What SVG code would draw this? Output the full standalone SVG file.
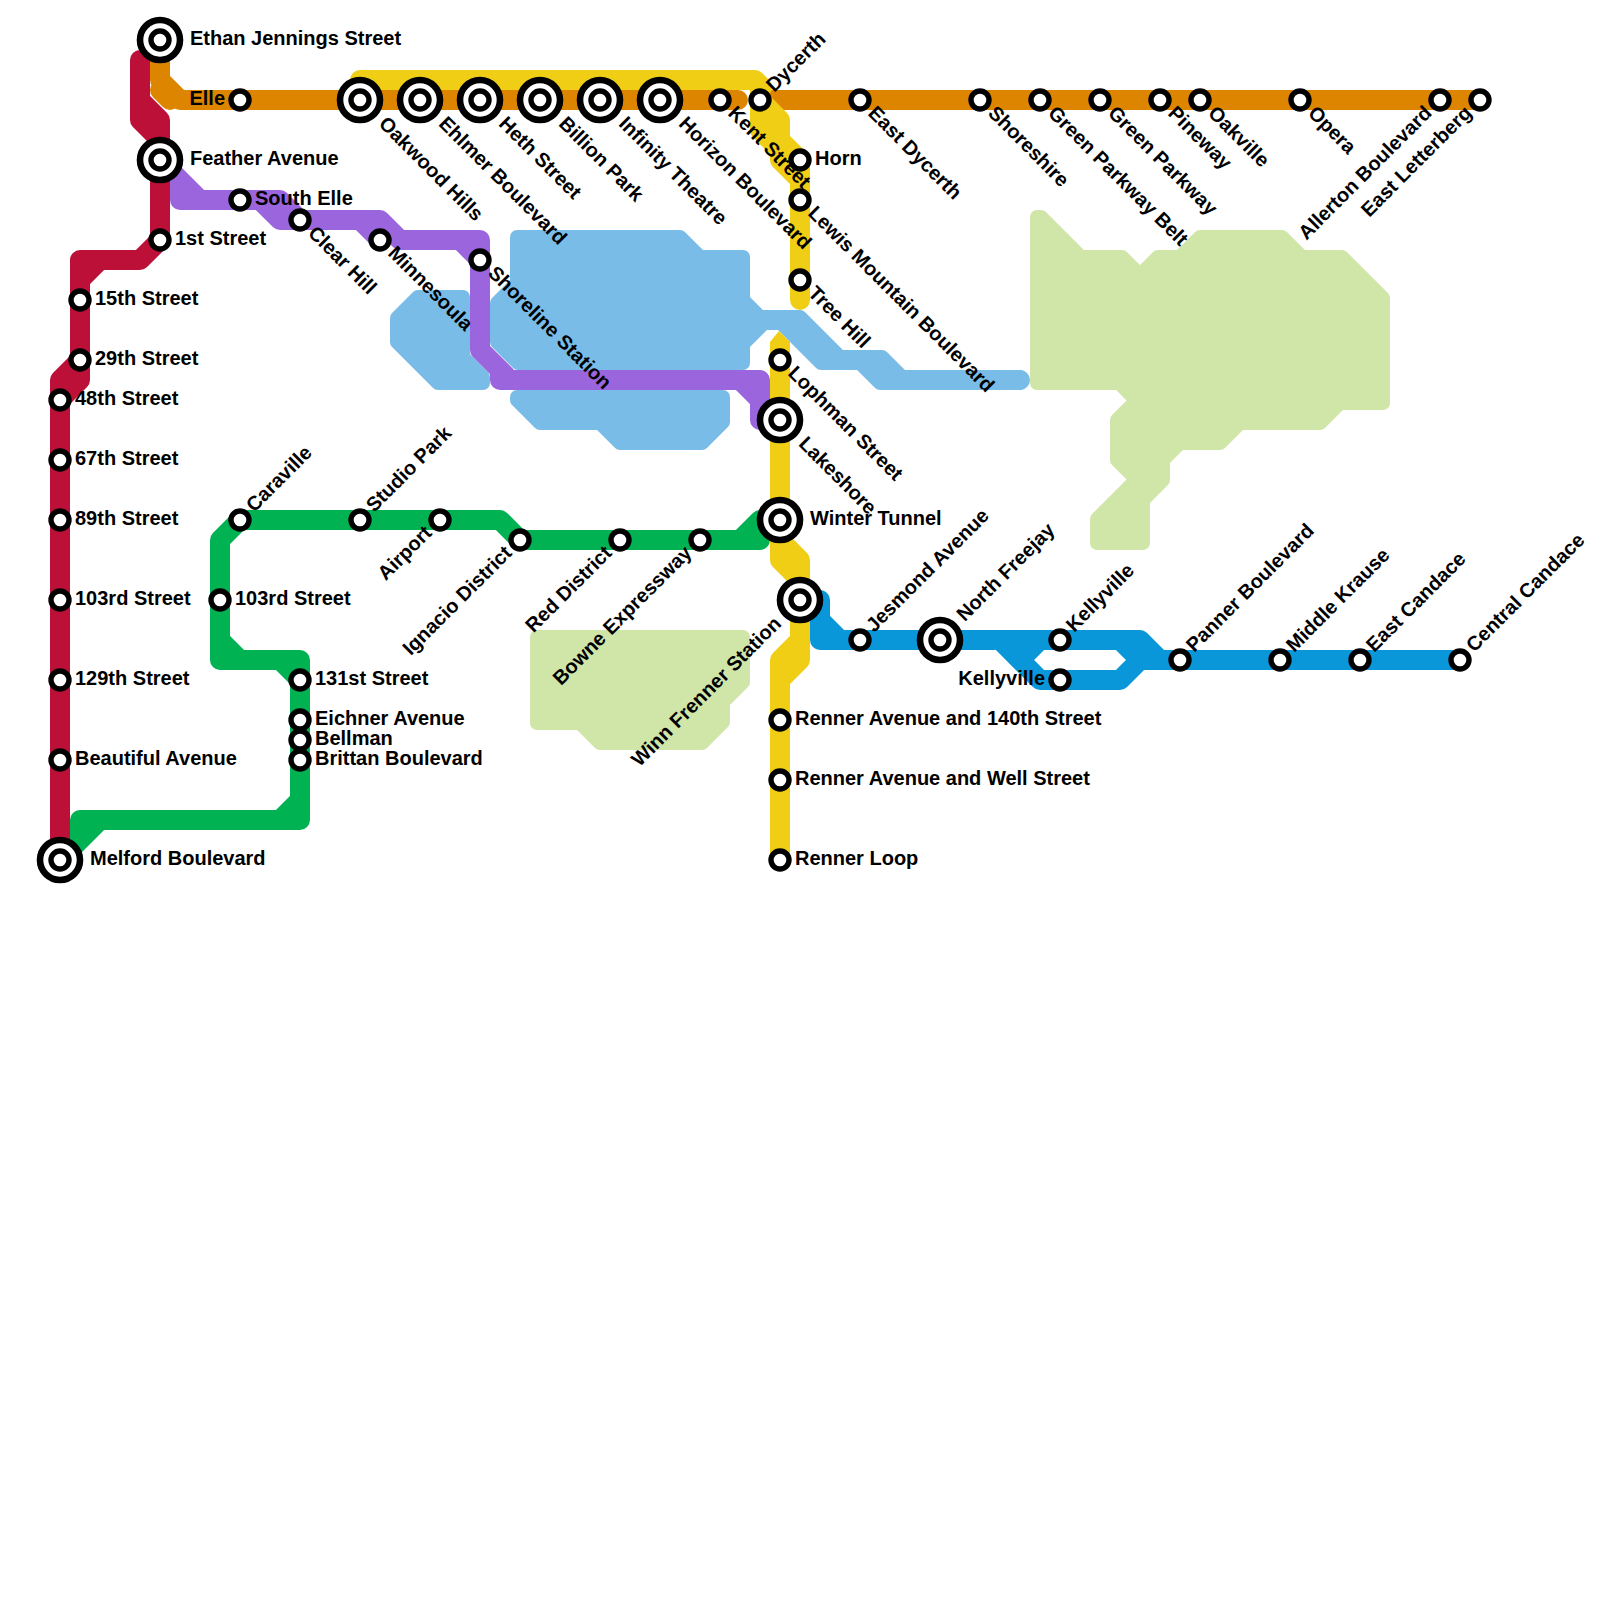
<svg xmlns="http://www.w3.org/2000/svg" width="1600" height="1600" viewBox="0 0 1600 1600">
<style>
.park{stroke-width:14;stroke-linejoin:round}
.pb{fill:#79bce8;stroke:#79bce8}
.pg{fill:#d0e5a8;stroke:#d0e5a8}
.l{fill:none;stroke-width:20;stroke-linejoin:round;stroke-linecap:round}
.s{fill:#fff;stroke:#000;stroke-width:5.4}
.i{fill:#fff;stroke:#000;stroke-width:6.6}
text{font-family:"Liberation Sans",Arial,sans-serif;font-weight:bold;font-size:20px;fill:#000}
.e{text-anchor:end}
</style>
<rect width="1600" height="1600" fill="#fff"/>
<g id="parks">
<polygon class="park pb" points="397,318 418,297 463,297 463,357 483,377 483,383 438,383 397,342"/>
<polygon class="park pb" points="517,237 680,237 700,257 743,257 743,300 760,317 800,317 840,357 882,357 902,377 1020,377 1020,383 880,383 860,363 821,363 781,323 764,323 743,344 743,363 518,363 497,342 497,303 517,283"/>
<path d="M1000,380H1020" fill="none" stroke="#79bce8" stroke-width="20" stroke-linecap="round"/>
<polygon class="park pb" points="517,397 723,397 723,422 702,443 620,443 600,423 540,423 517,400"/>
<polygon class="park pg" points="537,637 743,637 743,682 723,702 723,722 702,743 600,743 580,723 537,723"/>
<polygon class="park pg" points="1037,217 1041,217 1081,257 1122,257 1140,275 1158,257 1180,257 1200,237 1282,237 1302,257 1342,257 1383,298 1383,403 1340,403 1320,423 1240,423 1220,443 1180,443 1163,460 1163,480 1143,500 1143,543 1097,543 1097,519 1136.5,479.5 1117,460 1117,420 1136.5,400.5 1119,383 1037,383"/>
</g>
<g id="connectors">
<path id="line-green" class="l" stroke="#00b251" d="M240,520 H500 L520,540 H760 V520 M740,540 L760,520 M240,520 L220,540 V660 H300 V820 H80 V840 M220,640 L240,660 M280,660 L300,680 M300,800 L280,820 M100,820 L60,860"/>
<path id="line-purple" class="l" stroke="#9b65de" d="M160,160 L200,200 H280 L300,220 H380 L400,240 H480 V350 L510,380 M180,180 V200 H260 L280,220 H360 L380,240 M460,240 L480,260 M500,370 V380 H760 V420 M740,380 L760,400"/>
<path id="line-teal" class="l" stroke="#0a97d9" d="M820,600 V640 H1140 L1160,660 H1460 M820,620 L840,640 M1000,640 L1040,680 H1120 L1140,660 H1160 M1040,640 L1020,660 M1120,640 L1140,660"/>
<path id="line-red" class="l" stroke="#bd1038" d="M160,240 V120 L140,100 V60 M160,140 L140,120 V100 M160,240 L140,260 H80 V380 L60,400 V860 M100,260 L80,280 M60,380 L80,360 M60,380 V400"/>
<path id="line-orange-east" class="l" stroke="#de8500" d="M770,100 H1480"/>
<path id="line-yellow" class="l" stroke="#f0ce15" d="M360,80 H755 L762,87 M760,90 V130 L780,150 V160 L800,180 V300 M760,100 L780,120 V140 L800,160 V180 M780,360 V560 L800,580 M780,540 L800,560 V660 L780,680 V860 M800,640 L780,660 V680"/>
<polygon id="line-yellow-tip" points="770,342 779,331 790,342 790,365 770,365" fill="#f0ce15"/>
<path id="line-orange-west" class="l" stroke="#de8500" d="M160,40 V80 L180,100 H738 M160,90 L170,100"/>
</g>
<g id="nodes">
<g id="ethan-jennings-street"><circle class="i" cx="160" cy="40" r="20"/><circle class="s" cx="160" cy="40" r="9"/><text x="190" y="45">Ethan Jennings Street</text></g>
<g id="elle"><circle class="s" cx="240" cy="100" r="9"/><text class="e" x="225" y="105">Elle</text></g>
<g id="oakwood-hills"><circle class="i" cx="360" cy="100" r="20"/><circle class="s" cx="360" cy="100" r="9"/><text transform="translate(360,100) rotate(45)" x="30" y="5">Oakwood Hills</text></g>
<g id="ehlmer-boulevard"><circle class="i" cx="420" cy="100" r="20"/><circle class="s" cx="420" cy="100" r="9"/><text transform="translate(420,100) rotate(45)" x="30" y="5">Ehlmer Boulevard</text></g>
<g id="heth-street"><circle class="i" cx="480" cy="100" r="20"/><circle class="s" cx="480" cy="100" r="9"/><text transform="translate(480,100) rotate(45)" x="30" y="5">Heth Street</text></g>
<g id="billion-park"><circle class="i" cx="540" cy="100" r="20"/><circle class="s" cx="540" cy="100" r="9"/><text transform="translate(540,100) rotate(45)" x="30" y="5">Billion Park</text></g>
<g id="infinity-theatre"><circle class="i" cx="600" cy="100" r="20"/><circle class="s" cx="600" cy="100" r="9"/><text transform="translate(600,100) rotate(45)" x="30" y="5">Infinity Theatre</text></g>
<g id="horizon-boulevard"><circle class="i" cx="660" cy="100" r="20"/><circle class="s" cx="660" cy="100" r="9"/><text transform="translate(660,100) rotate(45)" x="30" y="5">Horizon Boulevard</text></g>
<g id="kent-street"><circle class="s" cx="720" cy="100" r="9"/><text transform="translate(720,100) rotate(45)" x="15" y="5">Kent Street</text></g>
<g id="dycerth"><circle class="s" cx="760" cy="100" r="9"/><text transform="translate(760,100) rotate(-45)" x="15" y="5">Dycerth</text></g>
<g id="east-dycerth"><circle class="s" cx="860" cy="100" r="9"/><text transform="translate(860,100) rotate(45)" x="15" y="5">East Dycerth</text></g>
<g id="shoreshire"><circle class="s" cx="980" cy="100" r="9"/><text transform="translate(980,100) rotate(45)" x="15" y="5">Shoreshire</text></g>
<g id="green-parkway-belt"><circle class="s" cx="1040" cy="100" r="9"/><text transform="translate(1040,100) rotate(45)" x="15" y="5">Green Parkway Belt</text></g>
<g id="green-parkway"><circle class="s" cx="1100" cy="100" r="9"/><text transform="translate(1100,100) rotate(45)" x="15" y="5">Green Parkway</text></g>
<g id="pineway"><circle class="s" cx="1160" cy="100" r="9"/><text transform="translate(1160,100) rotate(45)" x="15" y="5">Pineway</text></g>
<g id="oakville"><circle class="s" cx="1200" cy="100" r="9"/><text transform="translate(1200,100) rotate(45)" x="15" y="5">Oakville</text></g>
<g id="opera"><circle class="s" cx="1300" cy="100" r="9"/><text transform="translate(1300,100) rotate(45)" x="15" y="5">Opera</text></g>
<g id="allerton-boulevard"><circle class="s" cx="1440" cy="100" r="9"/><text class="e" transform="translate(1440,100) rotate(-45)" x="-15" y="5">Allerton Boulevard</text></g>
<g id="east-letterberg"><circle class="s" cx="1480" cy="100" r="9"/><text class="e" transform="translate(1480,100) rotate(-45)" x="-15" y="5">East Letterberg</text></g>
<g id="feather-avenue"><circle class="i" cx="160" cy="160" r="20"/><circle class="s" cx="160" cy="160" r="9"/><text x="190" y="165">Feather Avenue</text></g>
<g id="south-elle"><circle class="s" cx="240" cy="200" r="9"/><text x="255" y="205">South Elle</text></g>
<g id="clear-hill"><circle class="s" cx="300" cy="220" r="9"/><text transform="translate(300,220) rotate(45)" x="15" y="5">Clear Hill</text></g>
<g id="minnesoula"><circle class="s" cx="380" cy="240" r="9"/><text transform="translate(380,240) rotate(45)" x="15" y="5">Minnesoula</text></g>
<g id="shoreline-station"><circle class="s" cx="480" cy="260" r="9"/><text transform="translate(480,260) rotate(45)" x="15" y="5">Shoreline Station</text></g>
<g id="first-street"><circle class="s" cx="160" cy="240" r="9"/><text x="175" y="245">1st Street</text></g>
<g id="fifteenth-street"><circle class="s" cx="80" cy="300" r="9"/><text x="95" y="305">15th Street</text></g>
<g id="twenty-ninth-street"><circle class="s" cx="80" cy="360" r="9"/><text x="95" y="365">29th Street</text></g>
<g id="forty-eighth-street"><circle class="s" cx="60" cy="400" r="9"/><text x="75" y="405">48th Street</text></g>
<g id="sixty-seventh-street"><circle class="s" cx="60" cy="460" r="9"/><text x="75" y="465">67th Street</text></g>
<g id="eighty-ninth-street"><circle class="s" cx="60" cy="520" r="9"/><text x="75" y="525">89th Street</text></g>
<g id="west-103rd-street"><circle class="s" cx="60" cy="600" r="9"/><text x="75" y="605">103rd Street</text></g>
<g id="street-129th"><circle class="s" cx="60" cy="680" r="9"/><text x="75" y="685">129th Street</text></g>
<g id="beautiful-avenue"><circle class="s" cx="60" cy="760" r="9"/><text x="75" y="765">Beautiful Avenue</text></g>
<g id="melford-boulevard"><circle class="i" cx="60" cy="860" r="20"/><circle class="s" cx="60" cy="860" r="9"/><text x="90" y="865">Melford Boulevard</text></g>
<g id="caraville"><circle class="s" cx="240" cy="520" r="9"/><text transform="translate(240,520) rotate(-45)" x="15" y="5">Caraville</text></g>
<g id="studio-park"><circle class="s" cx="360" cy="520" r="9"/><text transform="translate(360,520) rotate(-45)" x="15" y="5">Studio Park</text></g>
<g id="airport"><circle class="s" cx="440" cy="520" r="9"/><text class="e" transform="translate(440,520) rotate(-45)" x="-15" y="5">Airport</text></g>
<g id="ignacio-district"><circle class="s" cx="520" cy="540" r="9"/><text class="e" transform="translate(520,540) rotate(-45)" x="-15" y="5">Ignacio District</text></g>
<g id="red-district"><circle class="s" cx="620" cy="540" r="9"/><text class="e" transform="translate(620,540) rotate(-45)" x="-15" y="5">Red District</text></g>
<g id="bowne-expressway"><circle class="s" cx="700" cy="540" r="9"/><text class="e" transform="translate(700,540) rotate(-45)" x="-15" y="5">Bowne Expressway</text></g>
<g id="east-103rd-street"><circle class="s" cx="220" cy="600" r="9"/><text x="235" y="605">103rd Street</text></g>
<g id="street-131st"><circle class="s" cx="300" cy="680" r="9"/><text x="315" y="685">131st Street</text></g>
<g id="eichner-avenue"><circle class="s" cx="300" cy="720" r="9"/><text x="315" y="725">Eichner Avenue</text></g>
<g id="bellman"><circle class="s" cx="300" cy="740" r="9"/><text x="315" y="745">Bellman</text></g>
<g id="brittan-boulevard"><circle class="s" cx="300" cy="760" r="9"/><text x="315" y="765">Brittan Boulevard</text></g>
<g id="horn"><circle class="s" cx="800" cy="160" r="9"/><text x="815" y="165">Horn</text></g>
<g id="lewis-mountain-boulevard"><circle class="s" cx="800" cy="200" r="9"/><text transform="translate(800,200) rotate(45)" x="15" y="5">Lewis Mountain Boulevard</text></g>
<g id="tree-hill"><circle class="s" cx="800" cy="280" r="9"/><text transform="translate(800,280) rotate(45)" x="15" y="5">Tree Hill</text></g>
<g id="lophman-street"><circle class="s" cx="780" cy="360" r="9"/><text transform="translate(780,360) rotate(45)" x="15" y="5">Lophman Street</text></g>
<g id="lakeshore"><circle class="i" cx="780" cy="420" r="20"/><circle class="s" cx="780" cy="420" r="9"/><text transform="translate(780,420) rotate(45)" x="30" y="5">Lakeshore</text></g>
<g id="winter-tunnel"><circle class="i" cx="780" cy="520" r="20"/><circle class="s" cx="780" cy="520" r="9"/><text x="810" y="525">Winter Tunnel</text></g>
<g id="winn-frenner-station"><circle class="i" cx="800" cy="600" r="20"/><circle class="s" cx="800" cy="600" r="9"/><text class="e" transform="translate(800,600) rotate(-45)" x="-30" y="5">Winn Frenner Station</text></g>
<g id="renner-140th"><circle class="s" cx="780" cy="720" r="9"/><text x="795" y="725">Renner Avenue and 140th Street</text></g>
<g id="renner-well"><circle class="s" cx="780" cy="780" r="9"/><text x="795" y="785">Renner Avenue and Well Street</text></g>
<g id="renner-loop"><circle class="s" cx="780" cy="860" r="9"/><text x="795" y="865">Renner Loop</text></g>
<g id="jesmond-avenue"><circle class="s" cx="860" cy="640" r="9"/><text transform="translate(860,640) rotate(-45)" x="15" y="5">Jesmond Avenue</text></g>
<g id="north-freejay"><circle class="i" cx="940" cy="640" r="20"/><circle class="s" cx="940" cy="640" r="9"/><text transform="translate(940,640) rotate(-45)" x="30" y="5">North Freejay</text></g>
<g id="kellyville-north"><circle class="s" cx="1060" cy="640" r="9"/><text transform="translate(1060,640) rotate(-45)" x="15" y="5">Kellyville</text></g>
<g id="kellyville-south"><circle class="s" cx="1060" cy="680" r="9"/><text class="e" x="1045" y="685">Kellyville</text></g>
<g id="panner-boulevard"><circle class="s" cx="1180" cy="660" r="9"/><text transform="translate(1180,660) rotate(-45)" x="15" y="5">Panner Boulevard</text></g>
<g id="middle-krause"><circle class="s" cx="1280" cy="660" r="9"/><text transform="translate(1280,660) rotate(-45)" x="15" y="5">Middle Krause</text></g>
<g id="east-candace"><circle class="s" cx="1360" cy="660" r="9"/><text transform="translate(1360,660) rotate(-45)" x="15" y="5">East Candace</text></g>
<g id="central-candace"><circle class="s" cx="1460" cy="660" r="9"/><text transform="translate(1460,660) rotate(-45)" x="15" y="5">Central Candace</text></g>
</g>
</svg>
